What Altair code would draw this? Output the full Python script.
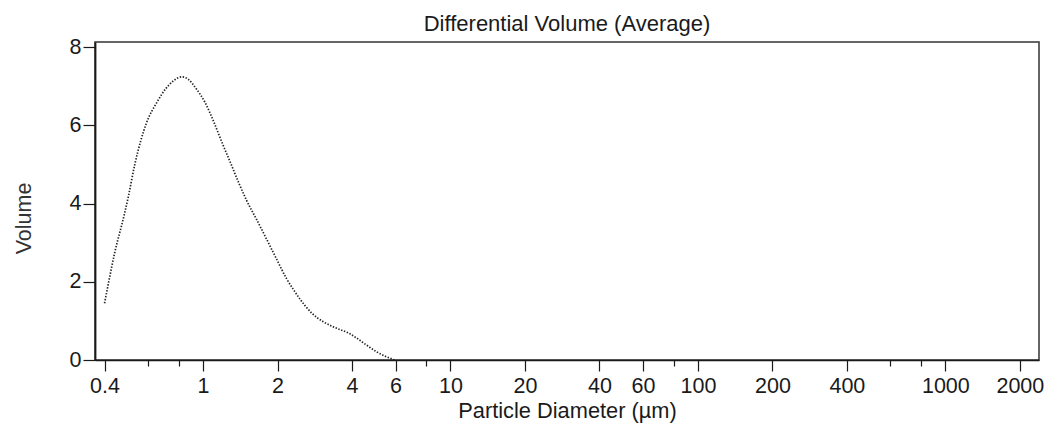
import altair as alt
import pandas as pd

# Particle size distribution: diameter (µm) and differential volume (%)
diameter = [0.40, 0.41, 0.44, 0.48, 0.50, 0.53, 0.56, 0.59, 0.65, 0.71, 0.76, 0.82,
            0.87, 0.94, 1.02, 1.10, 1.19, 1.29, 1.39, 1.50, 1.65, 1.81, 1.99, 2.18,
            2.32, 2.47, 2.75, 3.06, 3.47, 3.87, 4.18, 4.58, 5.03, 5.52, 5.95]
volume = [1.45, 1.80, 2.75, 3.70, 4.20, 5.00, 5.60, 6.05, 6.58, 6.95, 7.14, 7.24,
          7.18, 6.93, 6.58, 6.12, 5.58, 5.05, 4.55, 4.08, 3.58, 3.08, 2.56, 2.07,
          1.80, 1.55, 1.20, 0.98, 0.81, 0.69, 0.56, 0.38, 0.21, 0.08, 0.00]

major_ticks = [0.4, 1, 2, 4, 6, 10, 20, 40, 60, 100, 200, 400, 1000, 2000]
minor_ticks = [0.6, 0.8, 8, 80, 600, 800]
y_ticks = [0, 2, 4, 6, 8]

df = pd.DataFrame({"d": diameter, "v": volume})

FONT = "Liberation Sans"
INK = "#1a1a1a"

x_axis = alt.Axis(
    values=sorted(major_ticks + minor_ticks),
    labelExpr="indexof(" + str(minor_ticks) + ", datum.value) >= 0 ? '' : datum.label",
    format="~g",
    tickSize={"condition": {"test": "indexof(" + str(minor_ticks) + ", datum.value) >= 0",
                            "value": 6}, "value": 11},
    labelPadding=4,
    labelFontSize=21.5,
    labelFont=FONT,
    labelColor=INK,
    labelFlush=False,
    labelOverlap=False,
    title="Particle Diameter (µm)",
    titleFont=FONT,
    titleFontSize=21.8,
    titleFontWeight="normal",
    titleColor=INK,
    titleBaseline="alphabetic",
    titleY=57,
    grid=False,
    domainColor=INK,
    domainWidth=1.5,
    tickColor=INK,
    tickWidth=1.2,
)

y_axis = alt.Axis(
    values=y_ticks,
    tickSize=12,
    labelPadding=2,
    labelFontSize=21.5,
    labelFont=FONT,
    labelColor=INK,
    title="Volume",
    titleFont=FONT,
    titleFontSize=21.5,
    titleFontWeight="normal",
    titleColor="#333333",
    titleBaseline="alphabetic",
    titleX=-65,
    titleY=176,
    grid=False,
    domainColor=INK,
    domainWidth=1.8,
    tickColor=INK,
    tickWidth=1.2,
)

chart = (
    alt.Chart(df)
    .mark_line(color="#222222", strokeWidth=1.7, strokeDash=[1.4, 1.6], interpolate="monotone")
    .encode(
        x=alt.X("d:Q", scale=alt.Scale(type="log", domain=[0.366, 2390], nice=False), axis=x_axis),
        y=alt.Y("v:Q", scale=alt.Scale(domain=[0, 8.13], nice=False), axis=y_axis),
    )
    .properties(
        width=944,
        height=318,
        title=alt.TitleParams(
            "Differential Volume (Average)",
            font=FONT,
            fontSize=22,
            fontWeight="normal",
            color=INK,
            anchor="middle",
            baseline="alphabetic",
            offset=11,
            dy=28,
        ),
        autosize=alt.AutoSizeParams(type="none"),
        padding={"left": 95, "top": 42, "right": 11, "bottom": 66},
        background="white",
    )
    .configure_view(stroke="#333333", strokeWidth=1.5)
)

chart.save("out.html", embed_options={"renderer": "svg", "actions": False})
